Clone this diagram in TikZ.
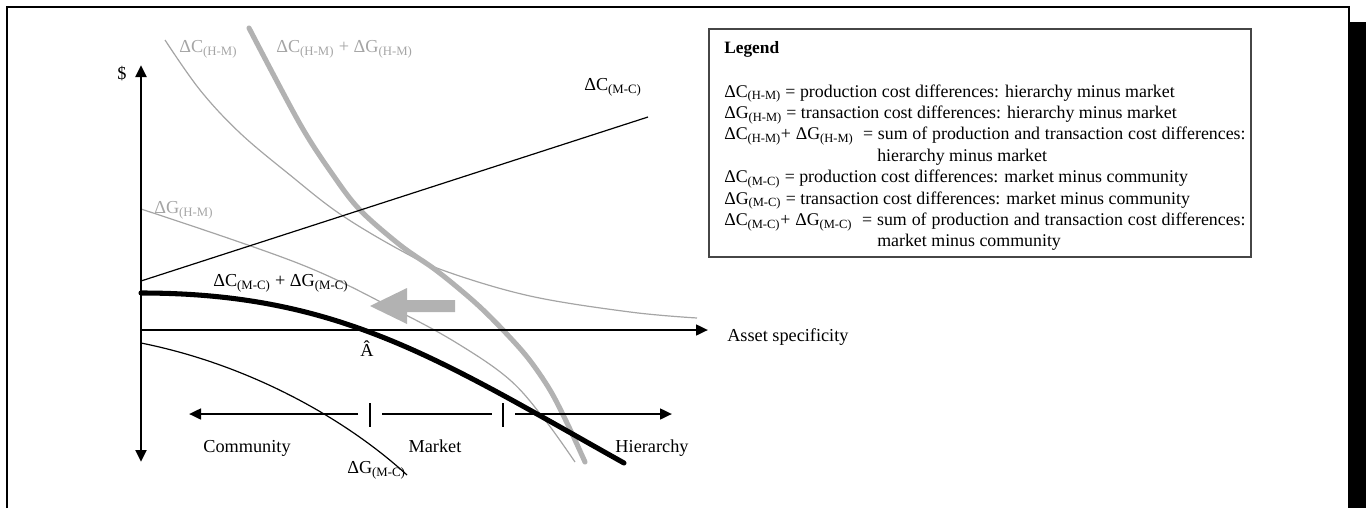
\documentclass[tikz,border=0pt]{standalone}
\usepackage{fontspec}
\setmainfont{Liberation Serif}
\usetikzlibrary{arrows.meta}
\definecolor{lgray}{RGB}{178,178,178}
\definecolor{tgray}{RGB}{165,165,165}
\definecolor{boxgray}{RGB}{70,70,70}
\newcommand\sbs[1]{\textsubscript{#1}}
\tikzset{tri/.tip={Triangle[length=9pt,width=8pt]}}
\begin{document}
\begin{tikzpicture}[x=0.75pt,y=-0.75pt,
  lbl/.style={font=\fontsize{13.7}{16}\selectfont, inner sep=0pt},
  glbl/.style={lbl, text=tgray},
  leg/.style={font=\fontsize{13.4}{16}\selectfont, inner sep=0pt, anchor=base west},
  thincurve/.style={line width=0.9pt},
  graycurve/.style={line width=0.9pt, draw=tgray},
  thickgray/.style={line width=3.8pt, draw=lgray, line cap=round},
  thickblack/.style={line width=3.8pt, line cap=round},
  rowarrow/.style={line width=1.9pt},
  tick/.style={line width=1pt}
]
\useasboundingbox (0,0) rectangle (1368,508);

% frame with shadow bar
\draw[line width=1.9pt] (7,508) -- (7,7) -- (1349,7) -- (1349,22);
\fill (1348,22) rectangle (1366,508);

% named points
\coordinate (O) at (141,330);
\coordinate (Ytop) at (141,65);
\coordinate (Ybot) at (141,462);
\coordinate (Xend) at (708,330);

% gray curves
\draw[graycurve] plot[smooth, tension=0.6] coordinates {(165,40) (200,90) (240,133) (290,175) (340,214) (400,250) (445,271) (530,296) (630,312) (697,318)};
\draw[graycurve] plot[smooth, tension=0.6] coordinates {(141,209) (300,264) (400,312) (460,345) (510,380) (545,420) (575,462)};
\draw[thickgray] plot[smooth, tension=0.55] coordinates {(249,28) (300,124) (333,175) (360,210) (400,245) (433,268) (457,287) (480,307) (503,330) (528,358) (550,390) (568,425) (585,462)};

% gray arrow
\fill[lgray] (370,306) -- (407,288) -- (407,300) -- (455,300) -- (455,312) -- (407,312) -- (407,324) -- cycle;

% axes
\draw[line width=2.2pt, tri-tri] (Ybot) -- (Ytop);
\draw[line width=1.9pt, -tri] (O) -- (Xend);

% black curves
\draw[thincurve] (141,281) -- (648,117);
\draw[thincurve] (141,343) .. controls (251,365) and (347,420) .. (407,475);
\draw[thickblack] (141,293) .. controls (340,293) and (440,360) .. (624,463);

% governance row
\coordinate (cL) at (189,414);
\coordinate (c1) at (358,414);
\coordinate (t1a) at (370,403); \coordinate (t1b) at (370,427);
\coordinate (m1) at (382,414); \coordinate (m2) at (492,414);
\coordinate (t2a) at (503,403); \coordinate (t2b) at (503,427);
\coordinate (c2) at (515,414);
\coordinate (cR) at (672,414);
\draw[rowarrow, -tri] (c1) -- (cL);
\draw[tick] (t1a) -- (t1b);
\draw[line width=0.8pt] (m1) -- (m2);
\draw[tick] (t2a) -- (t2b);
\draw[rowarrow, -tri] (c2) -- (cR);

% labels
\node[lbl] (dollar) at (122,74) {\$};
\node[glbl, anchor=west] (lCHM) at (179,49) {ΔC\sbs{(H-M)}};
\node[glbl, anchor=west] (lSHM) at (276,49) {ΔC\sbs{(H-M)} + ΔG\sbs{(H-M)}};
\node[glbl, anchor=west] (lGHM) at (154,210) {ΔG\sbs{(H-M)}};
\node[lbl, anchor=west] (lCMC) at (584,87) {ΔC\sbs{(M-C)}};
\node[lbl, anchor=west] (lSMC) at (213,283) {ΔC\sbs{(M-C)} + ΔG\sbs{(M-C)}};
\node[lbl] (ahat) at (367,349) {Â};
\node[lbl, anchor=west] (asset) at (727,337) {Asset specificity};
\node[lbl, anchor=base] (comm) at (247,452) {Community};
\node[lbl, anchor=base] (mark) at (435,452) {Market};
\node[lbl, anchor=base] (hier) at (652,452) {Hierarchy};
\node[lbl, anchor=west] (lGMC) at (347,470) {ΔG\sbs{(M-C)}};

% legend
\draw[boxgray, line width=0.9pt] (709,29) rectangle (1251,257);
\node[leg, font=\fontsize{13}{16}\selectfont\bfseries] (legt) at (724,53) {Legend};
\node[leg] (l1) at (724,97) {ΔC\sbs{(H-M)} = production cost differences: hierarchy minus market};
\node[leg] (l2) at (724,118.4) {ΔG\sbs{(H-M)} = transaction cost differences: hierarchy minus market};
\node[leg] (l3) at (724,139.8) {\makebox[391pt][s]{ΔC\sbs{(H-M)}+ ΔG\sbs{(H-M)}\ \ = sum of production and transaction cost differences:}};
\node[leg] (l4) at (877,161.2) {hierarchy minus market};
\node[leg] (l5) at (724,182.6) {ΔC\sbs{(M-C)} = production cost differences: market minus community};
\node[leg] (l6) at (724,204) {ΔG\sbs{(M-C)} = transaction cost differences: market minus community};
\node[leg] (l7) at (724,225.4) {\makebox[391pt][s]{ΔC\sbs{(M-C)}+ ΔG\sbs{(M-C)}\ \ = sum of production and transaction cost differences:}};
\node[leg] (l8) at (877,246.8) {market minus community};
\end{tikzpicture}
\end{document}
